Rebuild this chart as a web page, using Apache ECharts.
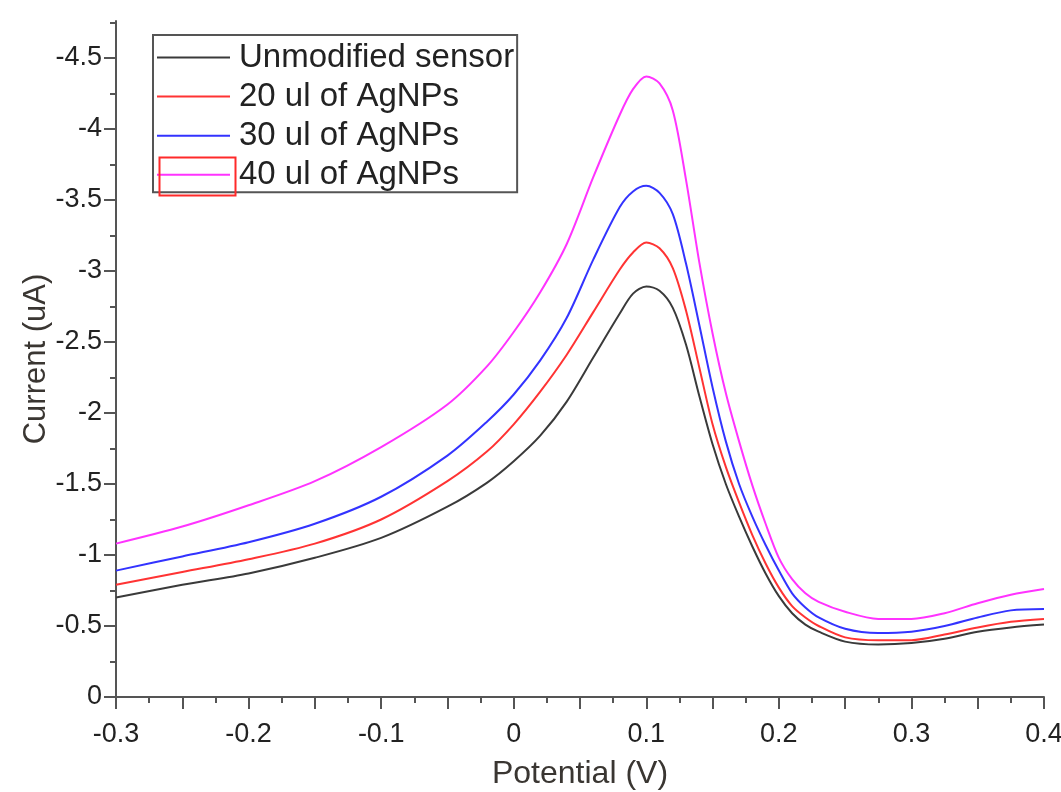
<!DOCTYPE html>
<html>
<head>
<meta charset="utf-8">
<script src="https://cdn.jsdelivr.net/npm/echarts@6/dist/echarts.min.js"></script>
<style>
  html, body { margin: 0; padding: 0; background: #fff; }
  #chart { width: 1061px; height: 792px; }
</style>
</head>
<body>
<div id="chart"></div>
<script>
// potential (V)
var potential = [-0.3, -0.25, -0.2, -0.15, -0.1, -0.05, -0.02, 0, 0.02, 0.04, 0.06, 0.08, 0.09, 0.1,
  0.11, 0.12, 0.13, 0.14, 0.15, 0.16, 0.17, 0.18, 0.19, 0.2, 0.21, 0.22, 0.23, 0.25, 0.275, 0.3,
  0.325, 0.35, 0.375, 0.4];

// current (uA), one list per sensor
var unmodified = [-0.70, -0.79, -0.87, -0.98, -1.12, -1.34, -1.51, -1.66, -1.84, -2.08, -2.39, -2.70, -2.84, -2.89,
  -2.86, -2.74, -2.48, -2.12, -1.78, -1.50, -1.27, -1.06, -0.87, -0.71, -0.59, -0.51, -0.46, -0.39, -0.37, -0.38,
  -0.41, -0.46, -0.49, -0.51];
var ag20 = [-0.79, -0.88, -0.97, -1.08, -1.25, -1.52, -1.73, -1.92, -2.15, -2.41, -2.71, -3.01, -3.13, -3.20,
  -3.16, -3.02, -2.72, -2.32, -1.92, -1.62, -1.37, -1.14, -0.94, -0.77, -0.64, -0.56, -0.50, -0.42, -0.40, -0.40,
  -0.44, -0.49, -0.53, -0.55];
var ag30 = [-0.89, -0.99, -1.09, -1.22, -1.41, -1.70, -1.94, -2.13, -2.37, -2.67, -3.08, -3.45, -3.56, -3.60,
  -3.55, -3.40, -3.05, -2.62, -2.18, -1.80, -1.50, -1.27, -1.07, -0.89, -0.73, -0.63, -0.56, -0.48, -0.45, -0.46,
  -0.50, -0.56, -0.61, -0.62];
var ag40 = [-1.08, -1.20, -1.35, -1.52, -1.76, -2.06, -2.33, -2.57, -2.85, -3.19, -3.66, -4.10, -4.28, -4.37,
  -4.32, -4.13, -3.64, -3.06, -2.56, -2.14, -1.80, -1.49, -1.22, -0.98, -0.83, -0.73, -0.67, -0.60, -0.55, -0.55,
  -0.59, -0.66, -0.72, -0.76];

var seriesNames = ['Unmodified sensor', '20 ul of AgNPs', '30 ul of AgNPs', '40 ul of AgNPs'];
var seriesColors = ['#3a3a3a', '#ff3333', '#3333ff', '#ff33ff'];

// tick labels
var xTickLabels = [-0.3, -0.2, -0.1, 0, 0.1, 0.2, 0.3, 0.4];
var yTickLabels = [0, -0.5, -1, -1.5, -2, -2.5, -3, -3.5, -4, -4.5];
var yMinorTicks = [-0.25, -0.75, -1.25, -1.75, -2.25, -2.75, -3.25, -3.75, -4.25, -4.75];

var font = "'Liberation Sans', Arial, sans-serif";
var axisColor = '#555';

function pairs (ys) {
  return potential.map(function (x, i) { return [x, ys[i]]; });
}

var allY = [unmodified, ag20, ag30, ag40];
var series = allY.map(function (ys, i) {
  return {
    name: seriesNames[i],
    type: 'line',
    data: pairs(ys),
    symbol: 'none',
    smooth: 0.3,
    color: seriesColors[i],
    lineStyle: { width: 2, color: seriesColors[i] }
  };
});

var option = {
  animation: false,
  backgroundColor: '#fff',
  textStyle: { fontFamily: font },
  grid: { left: 116, right: 17, top: 21, bottom: 95, containLabel: false, outerBoundsMode: 'none' },
  legend: {
    data: seriesNames,
    orient: 'vertical',
    left: 153,
    top: 35,
    padding: [6, 3, 1, 4],
    itemGap: 6.1,
    itemWidth: 73,
    itemHeight: 2,
    icon: 'rect',
    borderColor: '#555',
    borderWidth: 2,
    textStyle: { fontSize: 33, color: '#222', lineHeight: 30, fontFamily: font, padding: [0, 0, 0, 4] }
  },
  xAxis: {
    type: 'value',
    min: -0.3,
    max: 0.4,
    interval: 0.05,
    name: 'Potential (V)',
    nameLocation: 'middle',
    nameGap: 61,
    nameMoveOverlap: false,
    nameTextStyle: { fontSize: 32, color: '#3a3632', fontFamily: font },
    axisLine: { show: true, onZero: false, lineStyle: { color: axisColor, width: 2 } },
    axisTick: { show: true, length: 12, lineStyle: { color: axisColor, width: 2 } },
    minorTick: { show: true, splitNumber: 2, length: 6, lineStyle: { color: axisColor, width: 2 } },
    axisLabel: {
      customValues: xTickLabels,
      fontSize: 27,
      color: '#222',
      margin: 24,
      fontFamily: font
    },
    splitLine: { show: false }
  },
  yAxis: [{
    type: 'value',
    inverse: true,
    min: -4.76,
    max: 0,
    name: 'Current (uA)',
    nameLocation: 'middle',
    nameGap: 64,
    nameMoveOverlap: false,
    nameTextStyle: { fontSize: 31, color: '#3a3632', fontFamily: font },
    axisLine: { show: true, onZero: false, lineStyle: { color: axisColor, width: 2 } },
    axisTick: { show: true, customValues: yTickLabels, length: 12, lineStyle: { color: axisColor, width: 2 } },
    axisLabel: {
      customValues: yTickLabels,
      fontSize: 27,
      color: '#222',
      margin: 14,
      fontFamily: font
    },
    splitLine: { show: false }
  }, {
    // minor ticks only
    type: 'value',
    inverse: true,
    min: -4.76,
    max: 0,
    position: 'left',
    axisLine: { show: false, onZero: false },
    axisTick: { show: true, customValues: yMinorTicks, length: 6, lineStyle: { color: axisColor, width: 2 } },
    axisLabel: { show: false },
    splitLine: { show: false }
  }],
  graphic: [{
    // red outline around the last legend key, as in the original figure
    type: 'rect',
    left: 157,
    top: 155,
    shape: { width: 76, height: 38 },
    style: { fill: 'none', stroke: '#ff2a2a', lineWidth: 2 },
    z: 100
  }],
  series: series
};

var chart = echarts.init(document.getElementById('chart'));
chart.setOption(option);
</script>
</body>
</html>
